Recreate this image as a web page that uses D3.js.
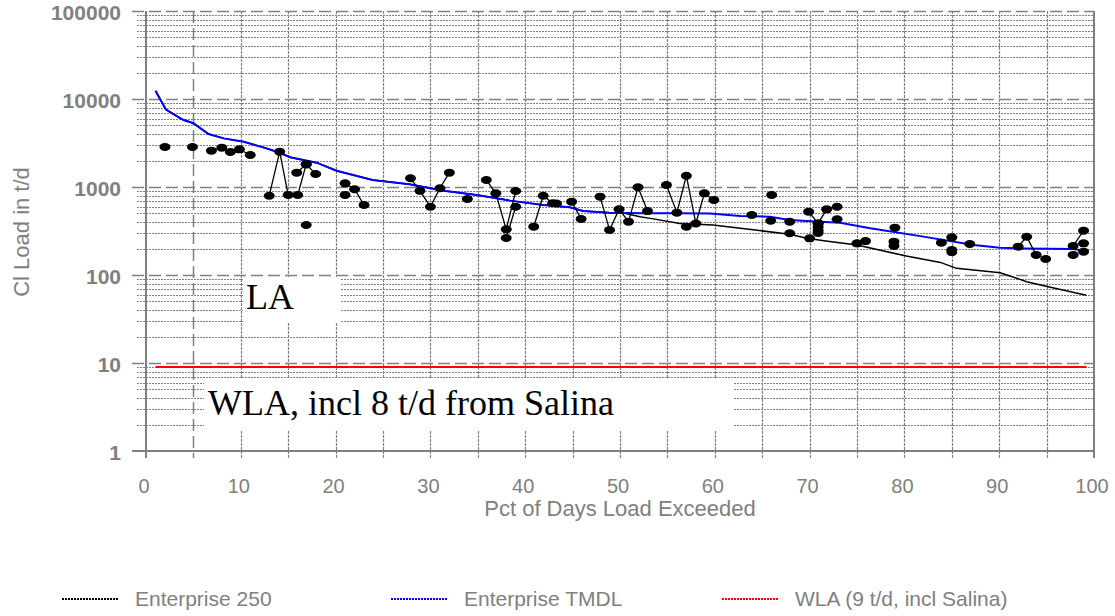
<!DOCTYPE html>
<html><head><meta charset="utf-8">
<script src="https://cdn.jsdelivr.net/npm/d3@7"></script>
<style>body{margin:0;background:#fff}svg{display:block}</style>
</head><body>
<svg id="c" width="1115" height="616"></svg>
<script>
// ---- data ----
const xTicks = [0,10,20,30,40,50,60,70,80,90,100];
const yTicks = [1,10,100,1000,10000,100000];
const tmdl = [[1.0,12400],[2.1,7600],[3.9,5800],[5.0,5300],[6.6,4000],[8.2,3570],[10.3,3270],[12.7,2750],[14.1,2450],[15.2,2180],[18.0,1890],[20.1,1530],[23.9,1200],[27.8,1075],[31.4,908],[34.9,811],[38.4,700],[41.9,624],[44.7,588],[46.1,533],[48.9,511],[52.5,502],[56,502],[59.5,500],[62.7,468],[65.8,460],[67.9,422],[71.1,404],[73.2,393],[76.4,339],[82,273],[87.3,219],[90.1,204],[92.5,200],[97.8,197],[99.2,187]];
const ent250 = [[1.0,12400],[2.1,7600],[3.9,5800],[5.0,5300],[6.6,4000],[8.2,3570],[10.3,3270],[12.7,2750],[14.1,2450],[15.2,2180],[18.0,1890],[20.1,1530],[23.9,1200],[27.8,1075],[31.4,908],[34.9,811],[38.4,700],[41.9,624],[44.7,588],[46.1,533],[48.9,511],[50.5,502],[52.1,460],[53.2,440],[56.3,386],[59.8,370],[62.7,339],[64.5,322],[67.9,290],[69.7,261],[71.7,243],[75,219],[80.2,164],[83.8,139],[85.5,119],[87.3,114],[90.1,106],[92.9,84],[95.4,72.5],[99.2,59]];
const wla = [[1.0,9],[99.2,9]];
const observed = [
  [[2.0,2850]],
  [[4.9,2850]],
  [[6.9,2590],[8.0,2800],[8.9,2500],[9.85,2680],[11.0,2310]],
  [[13.0,796],[14.1,2520],[15.0,811]],
  [[16.0,811],[16.9,1811]],
  [[15.9,1455],[16.9,1811],[17.9,1406]],
  [[16.9,370]],
  [[21.0,1100],[22.0,942],[23.0,624]],
  [[21.0,811]],
  [[27.9,1256],[28.9,905],[30.0,597],[31.0,967],[32.0,1455]],
  [[33.9,731]],
  [[35.9,1202],[36.9,848],[38.0,330],[39.0,901]],
  [[38.0,263],[39.0,597]],
  [[40.9,354],[41.9,796],[42.9,653],[43.3,650]],
  [[44.9,681],[45.9,433]],
  [[47.9,776],[48.9,325],[49.9,557],[50.9,404],[51.9,993],[52.9,533]],
  [[54.9,1055],[56.0,511],[57.0,1343],[58.0,385],[58.9,848],[59.9,711]],
  [[57.0,354]],
  [[63.9,481]],
  [[66.0,811]],
  [[65.9,414]],
  [[67.9,404]],
  [[67.9,298]],
  [[69.9,525],[70.9,386]],
  [[70.9,386],[71.8,557],[72.9,597]],
  [[70.0,261]],
  [[70.9,350]],
  [[70.9,320]],
  [[70.9,300]],
  [[72.9,430]],
  [[75.0,229],[75.9,243]],
  [[79.0,345]],
  [[78.9,239]],
  [[78.9,214]],
  [[83.9,233]],
  [[85.0,268]],
  [[85.0,192]],
  [[85.0,182]],
  [[86.9,225]],
  [[92.0,210],[92.9,272],[93.9,169]],
  [[94.9,152]],
  [[97.8,214],[98.9,319]],
  [[97.8,169]],
  [[98.9,229]],
  [[98.9,184]]
];
const legendItems = [["Enterprise 250","#000000"],["Enterprise TMDL","#0000ff"],["WLA (9 t/d, incl Salina)","#ff0000"]];

// ---- chart ----
const svg = d3.select("#c");
const x = d3.scaleLinear().domain([0,100]).range([146,1094]);
const y = d3.scaleLog().domain([1,100000]).range([451,11]);
const grey = "#808080";
const grid = svg.append("g");

// minor horizontal grid
const minors = [];
for (let d=1; d<100000; d*=10) for (let k=2;k<=9;k++) minors.push(d*k);
grid.selectAll(".mn").data(minors).join("line")
  .attr("x1",137).attr("x2",x(100)).attr("y1",d=>Math.round(y(d))+0.5).attr("y2",d=>Math.round(y(d))+0.5)
  .attr("stroke",grey).attr("stroke-width",1).attr("stroke-dasharray","2,1");
// major horizontal grid
grid.selectAll(".mj").data(yTicks.slice(1)).join("line")
  .attr("x1",132).attr("x2",x(100)).attr("y1",d=>Math.round(y(d))+0.5).attr("y2",d=>Math.round(y(d))+0.5)
  .attr("stroke",grey).attr("stroke-width",1.5).attr("stroke-dasharray","12,5");
// vertical grid
const vx = d3.range(5,100,5);
grid.selectAll(".v").data(vx).join("line")
  .attr("x1",d=>Math.round(x(d))+0.5).attr("x2",d=>Math.round(x(d))+0.5)
  .attr("y1",y(100000)).attr("y2",458)
  .attr("stroke",grey).attr("stroke-width",d=>d===5?1.5:1.2)
  .attr("stroke-dasharray",d=>d===5?"12,5":"3,1");

// annotation boxes
const ann = svg.append("g");
ann.append("rect").attr("x",243).attr("y",277).attr("width",97).attr("height",45).attr("fill","#fff");
ann.append("text").attr("x",246).attr("y",309).text("LA")
  .attr("font-family","'Liberation Serif','Times New Roman',serif").attr("font-size",36).attr("fill","#000");
ann.append("rect").attr("x",204).attr("y",379).attr("width",529).attr("height",52).attr("fill","#fff");
ann.append("text").attr("x",208).attr("y",415).text("WLA, incl 8 t/d from Salina")
  .attr("font-family","'Liberation Serif','Times New Roman',serif").attr("font-size",36).attr("fill","#000");

// axes frame
svg.append("line").attr("x1",x(0)).attr("x2",x(0)).attr("y1",y(100000)).attr("y2",458).attr("stroke",grey).attr("stroke-width",2);
svg.append("line").attr("x1",x(100)).attr("x2",x(100)).attr("y1",y(100000)).attr("y2",458).attr("stroke",grey).attr("stroke-width",2);
svg.append("line").attr("x1",132).attr("x2",x(100)).attr("y1",y(1)).attr("y2",y(1)).attr("stroke",grey).attr("stroke-width",2);

// tick labels
svg.append("g").selectAll("text").data(yTicks).join("text")
  .attr("x",121).attr("y",d=>y(d)+9).attr("text-anchor","end")
  .attr("font-family","'Liberation Sans',Arial,sans-serif").attr("font-weight","bold").attr("font-size",21)
  .attr("fill",grey).text(d=>d);
svg.append("g").selectAll("text").data(xTicks).join("text")
  .attr("x",d=>x(d)-2).attr("y",493).attr("text-anchor","middle")
  .attr("font-family","'Liberation Sans',Arial,sans-serif").attr("font-size",20)
  .attr("fill",grey).text(d=>d);
svg.append("text").attr("x",x(50)).attr("y",516).attr("text-anchor","middle")
  .attr("font-family","'Liberation Sans',Arial,sans-serif").attr("font-size",22).attr("fill",grey)
  .text("Pct of Days Load Exceeded");
svg.append("text").attr("transform","translate(29,232) rotate(-90)").attr("text-anchor","middle")
  .attr("font-family","'Liberation Sans',Arial,sans-serif").attr("font-size",22).attr("fill",grey)
  .text("Cl Load in t/d");

// series
const line = d3.line().x(d=>x(d[0])).y(d=>y(d[1]));
svg.append("path").datum(wla).attr("d",line).attr("fill","none").attr("stroke","#ff0000").attr("stroke-width",2);
svg.append("path").datum(ent250).attr("d",line).attr("fill","none").attr("stroke","#000").attr("stroke-width",1.5);
svg.append("path").datum(tmdl).attr("d",line).attr("fill","none").attr("stroke","#0000ff").attr("stroke-width",2);

const obs = svg.append("g");
obs.selectAll("path").data(observed.filter(g=>g.length>1)).join("path")
  .attr("d",line).attr("fill","none").attr("stroke","#000").attr("stroke-width",1.3);
obs.selectAll("ellipse").data(observed.flat()).join("ellipse")
  .attr("cx",d=>x(d[0])).attr("cy",d=>y(d[1])).attr("rx",5.5).attr("ry",4).attr("fill","#000");

// legend
const lg = svg.append("g");
const lx = [62,391,722];
legendItems.forEach((it,i)=>{
  lg.append("line").attr("x1",lx[i]).attr("x2",lx[i]+56).attr("y1",599).attr("y2",599)
    .attr("stroke",it[1]).attr("stroke-width",2).attr("stroke-dasharray","2,1");
  lg.append("text").attr("x",lx[i]+73).attr("y",606).text(it[0])
    .attr("font-family","'Liberation Sans',Arial,sans-serif").attr("font-size",21).attr("fill",grey);
});
</script>
</body></html>
